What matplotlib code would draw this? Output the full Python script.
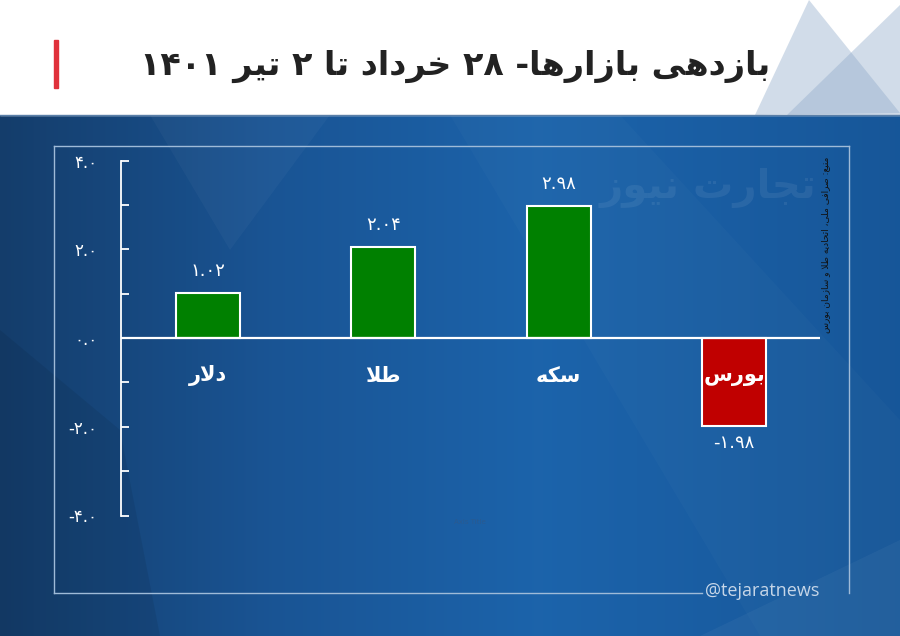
import numpy as np
import matplotlib
matplotlib.use('Agg')
import matplotlib.pyplot as plt
from matplotlib.patches import Polygon, Rectangle

# متن فارسی: DejaVu Sans حروف عربی را دارد
plt.rcParams['font.family'] = ['DejaVu Sans']
plt.rcParams['axes.unicode_minus'] = False

# داده‌ها
categories = ['دلار', 'طلا', 'سکه', 'بورس']
returns = [1.02, 2.04, 2.98, -1.98]
value_labels = ['۱.۰۲', '۲.۰۴', '۲.۹۸', '-۱.۹۸']
ytick_values = [4, 2, 0, -2, -4]
ytick_labels = ['۴.۰', '۲.۰', '۰.۰', '-۲.۰', '-۴.۰']
title = 'بازدهی بازارها- ۲۸ خرداد تا ۲ تیر ۱۴۰۱'
source = 'منبع: صرافی ملی، اتحادیه طلا و سازمان بورس'
watermark = 'تجارت نیوز'
handle = '@tejaratnews'

# شکل‌های حروف: (جدا، پایانی، آغازی، میانی)
FORMS = {
    'ا': ('\uFE8D', '\uFE8E', None, None),
    'ب': ('\uFE8F', '\uFE90', '\uFE91', '\uFE92'),
    'ت': ('\uFE95', '\uFE96', '\uFE97', '\uFE98'),
    'ج': ('\uFE9D', '\uFE9E', '\uFE9F', '\uFEA0'),
    'ح': ('\uFEA1', '\uFEA2', '\uFEA3', '\uFEA4'),
    'خ': ('\uFEA5', '\uFEA6', '\uFEA7', '\uFEA8'),
    'د': ('\uFEA9', '\uFEAA', None, None),
    'ر': ('\uFEAD', '\uFEAE', None, None),
    'ز': ('\uFEAF', '\uFEB0', None, None),
    'س': ('\uFEB1', '\uFEB2', '\uFEB3', '\uFEB4'),
    'ص': ('\uFEB9', '\uFEBA', '\uFEBB', '\uFEBC'),
    'ط': ('\uFEC1', '\uFEC2', '\uFEC3', '\uFEC4'),
    'ع': ('\uFEC9', '\uFECA', '\uFECB', '\uFECC'),
    'ف': ('\uFED1', '\uFED2', '\uFED3', '\uFED4'),
    'ل': ('\uFEDD', '\uFEDE', '\uFEDF', '\uFEE0'),
    'م': ('\uFEE1', '\uFEE2', '\uFEE3', '\uFEE4'),
    'ن': ('\uFEE5', '\uFEE6', '\uFEE7', '\uFEE8'),
    'ه': ('\uFEE9', '\uFEEA', '\uFEEB', '\uFEEC'),
    'و': ('\uFEED', '\uFEEE', None, None),
    'ی': ('\uFBFC', '\uFBFD', '\uFBFE', '\uFBFF'),
    'ک': ('\uFB8E', '\uFB8F', '\uFB90', '\uFB91'),
}
DIGITS = set('۰۱۲۳۴۵۶۷۸۹0123456789')


def shape(text):
    chars = list(text)
    out = []
    i = 0
    while i < len(chars):
        c = chars[i]
        if c not in FORMS:
            out.append(c)
            i += 1
            continue
        prev = chars[i - 1] if i > 0 else None
        nxt = chars[i + 1] if i + 1 < len(chars) else None
        join_prev = prev in FORMS and FORMS[prev][2] is not None
        if c == 'ل' and nxt == 'ا':
            out.append('\uFEFC' if join_prev else '\uFEFB')
            i += 2
            continue
        join_next = nxt in FORMS and FORMS[c][2] is not None
        iso, fin, ini, med = FORMS[c]
        if join_prev and join_next:
            out.append(med)
        elif join_prev:
            out.append(fin)
        elif join_next:
            out.append(ini)
        else:
            out.append(iso)
        i += 1
    return ''.join(out)


def fa(text):
    # شکل‌دهی و وارونه‌سازی ساده؛ اعداد به همان ترتیب می‌مانند
    s = shape(text)
    runs = []
    for ch in s:
        is_num = ch in DIGITS
        if runs and runs[-1][0] == is_num:
            runs[-1][1].append(ch)
        else:
            runs.append([is_num, [ch]])
    out = ''
    for is_num, chs in reversed(runs):
        out += ''.join(chs) if is_num else ''.join(reversed(chs))
    return out


fig = plt.figure(figsize=(9, 6.36), dpi=100)

# پس‌زمینه (مختصات پیکسلی)
bg = fig.add_axes([0, 0, 1, 1])
bg.set_xlim(0, 900)
bg.set_ylim(636, 0)
bg.axis('off')

grad_x = np.linspace(0, 1, 300)
stops = [0.0, 0.3, 0.6, 1.0]
cols = np.array([[0.08, 0.24, 0.42], [0.10, 0.33, 0.58],
                 [0.11, 0.39, 0.67], [0.09, 0.34, 0.60]])
img = np.stack([np.interp(grad_x, stops, cols[:, k]) for k in range(3)], axis=-1)
img = np.tile(img[None, :, :], (60, 1, 1))
bg.imshow(img, extent=[0, 900, 636, 115], aspect='auto', zorder=0)

# نوارهای مورب کم‌رنگ
bg.add_patch(Polygon([[150, 115], [330, 115], [230, 250]], closed=True,
                     color='white', alpha=0.03, lw=0, zorder=1))
bg.add_patch(Polygon([[0, 330], [120, 430], [160, 636], [0, 636]], closed=True,
                     color='black', alpha=0.07, lw=0, zorder=1))
bg.add_patch(Polygon([[450, 115], [620, 115], [900, 420], [900, 636], [760, 636]],
                     closed=True, color='white', alpha=0.02, lw=0, zorder=1))
bg.add_patch(Polygon([[700, 636], [900, 540], [900, 636]], closed=True,
                     color='white', alpha=0.04, lw=0, zorder=1))

# نوار بالایی
bg.add_patch(Rectangle((0, 0), 900, 115, color='white', zorder=2))
bg.add_patch(Polygon([[755, 115], [809, 0], [900, 113]], closed=True,
                     color='#8ea9c9', alpha=0.4, lw=0, zorder=3))
bg.add_patch(Polygon([[787, 115], [900, 5], [900, 115]], closed=True,
                     color='#8ea9c9', alpha=0.4, lw=0, zorder=3))
bg.plot([0, 900], [115, 115], color='#5a7fa8', lw=1, zorder=4)
bg.add_patch(Rectangle((54, 40), 3.5, 48, color='#e0313b', zorder=4))
bg.text(770, 66, fa(title), ha='right', va='center', fontsize=24,
        fontweight='bold', color='#222222', zorder=5)

# قاب داخلی
frame_col = '#9fbbd8'
bg.plot([54, 849], [146, 146], color=frame_col, lw=1, zorder=3)
bg.plot([54, 54], [146, 593], color=frame_col, lw=1, zorder=3)
bg.plot([54, 702], [593, 593], color=frame_col, lw=1, zorder=3)
bg.plot([849, 849], [146, 593], color=frame_col, lw=1, zorder=3)
bg.text(705, 591, handle, ha='left', va='center', fontsize=13,
        family='Open Sans', color='#c6d6e8', zorder=3)

bg.text(708, 188, fa(watermark), ha='center', va='center', fontsize=29,
        fontweight='bold', color='white', alpha=0.07, zorder=3)
bg.text(470, 522, 'Axis Title', ha='center', va='center', fontsize=5,
        color='#2a5a90', zorder=3)
bg.text(826, 245, fa(source), ha='center', va='center', fontsize=6.5,
        rotation=90, color='#111111', zorder=3)

# نمودار میله‌ای
ax = fig.add_axes([121 / 900, 1 - 515.5 / 636, 699 / 900, 355 / 636])
ax.patch.set_alpha(0)
x = np.arange(len(categories))
colors = ['#008000' if v >= 0 else '#c00000' for v in returns]
ax.bar(x, returns, width=0.365, color=colors, edgecolor='white', linewidth=1.5,
       zorder=3)
ax.axhline(0, color='white', lw=1.6, zorder=4)

for i, v in enumerate(returns):
    if v >= 0:
        ax.text(x[i], v + 0.5, value_labels[i], ha='center', va='center',
                fontsize=13, color='white')
    else:
        ax.text(x[i], v - 0.38, value_labels[i], ha='center', va='center',
                fontsize=13, color='white')
    ax.text(x[i], -0.85, fa(categories[i]), ha='center', va='center',
            fontsize=15, fontweight='bold', color='white', zorder=5)

ax.set_xlim(-0.496, 3.49)
ax.set_ylim(-4, 4)
ax.set_yticks(ytick_values)
ax.set_yticklabels(ytick_labels)
ax.set_yticks([3, 1, -1, -3], minor=True)
ax.tick_params(axis='y', which='both', direction='in', length=6, width=1.3,
               color='white', labelcolor='white', labelsize=12, pad=17)
ax.set_xticks([])
for side in ['top', 'right', 'bottom']:
    ax.spines[side].set_visible(False)
ax.spines['left'].set_color('white')
ax.spines['left'].set_linewidth(1.3)

fig.savefig('out.png', dpi=100)
